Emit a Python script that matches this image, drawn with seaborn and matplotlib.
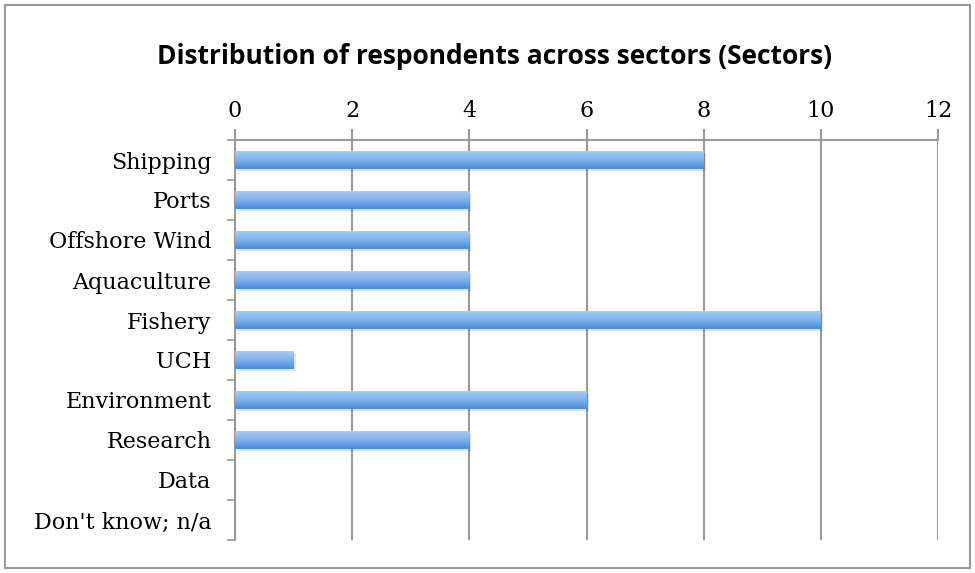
import numpy as np
import pandas as pd
import matplotlib
matplotlib.use('Agg')
import matplotlib.pyplot as plt
import matplotlib.patheffects as pe
from matplotlib.colors import LinearSegmentedColormap
from matplotlib.patches import Rectangle
import seaborn as sns

# Data
sectors = ['Shipping', 'Ports', 'Offshore Wind', 'Aquaculture', 'Fishery',
           'UCH', 'Environment', 'Research', 'Data', "Don't know; n/a"]
respondents = [8, 4, 4, 4, 10, 1, 6, 4, 0, 0]
x_ticks = [0, 2, 4, 6, 8, 10, 12]

df = pd.DataFrame({'sector': sectors, 'count': respondents})

sns.set_style('white')
plt.rcParams['font.family'] = ['DejaVu Serif']
plt.rcParams['text.color'] = 'black'

fig = plt.figure(figsize=(9.75, 5.73), dpi=100)
ax = fig.add_axes([235 / 975, 1 - 540 / 573, (938 - 235) / 975, 400 / 573])

sns.barplot(data=df, x='count', y='sector', orient='h', width=0.45,
            color='#6fa3e3', ax=ax, zorder=3)

# gradient fill on bars, lighter on top
grad_cmap = LinearSegmentedColormap.from_list('bar', ['#a8ccf6', '#7fb0ec', '#4b8cd6'])
grad = np.linspace(0, 1, 64).reshape(-1, 1)
for p in ax.patches:
    w = p.get_width()
    if w <= 0:
        p.set_visible(False)
        continue
    p.set_edgecolor('none')
    p.set_path_effects([pe.SimplePatchShadow(offset=(1.5, -1.5), shadow_rgbFace='#000000', alpha=0.1),
                        pe.Normal()])
    y0 = p.get_y()
    h = p.get_height()
    im = ax.imshow(grad, cmap=grad_cmap, aspect='auto', extent=(0, w, y0 + h, y0),
                   zorder=4, interpolation='bicubic')
    im.set_clip_path(p)

ax.set_xlim(0, 12)
ax.set_ylim(9.5, -0.5)
ax.set_xticks(x_ticks)
ax.xaxis.tick_top()
ax.tick_params(axis='x', which='major', direction='out', length=8, width=1.5,
               color='#999999', labelcolor='black', labelsize=16, pad=5,
               top=True, bottom=False)
ax.grid(axis='x', color='#999999', linewidth=1.5, zorder=1)
ax.set_axisbelow(True)

ax.set_yticks(np.arange(len(sectors)))
ax.set_yticklabels(sectors)
ax.set_yticks(np.arange(-0.5, len(sectors)), minor=True)
ax.tick_params(axis='y', which='major', length=0, labelsize=16, pad=17, labelcolor='black')
ax.tick_params(axis='y', which='minor', length=6, width=1.2, color='#999999', left=True)

for side in ['right', 'bottom']:
    ax.spines[side].set_visible(False)
for side in ['top', 'left']:
    ax.spines[side].set_color('#999999')
    ax.spines[side].set_linewidth(1.5)

ax.set_xlabel('')
ax.set_ylabel('')

fig.text(494 / 975, 1 - 56 / 573, 'Distribution of respondents across sectors (Sectors)',
         ha='center', va='center', fontsize=19, fontweight='bold', color='black',
         family=['Open Sans', 'DejaVu Sans'])

# outer frame
fig.patches.append(Rectangle((5 / 975, 5 / 573), 965 / 975, 563 / 573, transform=fig.transFigure,
                             fill=False, edgecolor='#999999', linewidth=1.5))

fig.savefig('out.png', dpi=100)
